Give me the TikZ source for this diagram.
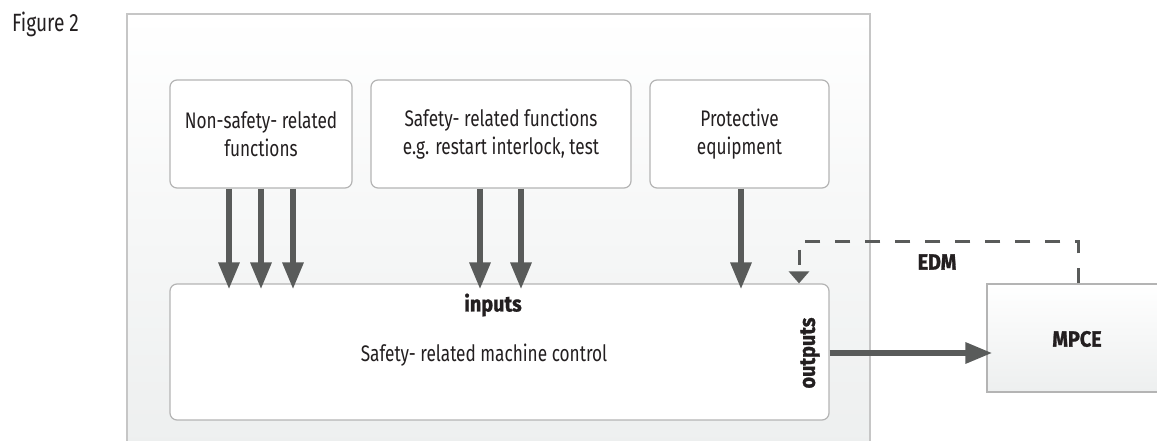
\documentclass[tikz,border=0pt]{standalone}
\usepackage{fontspec}
\setmainfont{Fira Sans}[FakeStretch=0.765]
\newfontfamily\heavyfont{Fira Sans}[FakeStretch=0.9,FakeBold=1.2]
\usetikzlibrary{arrows.meta,calc}
\definecolor{arrowgray}{HTML}{595B5A}
\definecolor{boxborder}{HTML}{B4B4B4}
\definecolor{framegray}{HTML}{C6C6C6}
\definecolor{shadegray}{HTML}{EDEFEF}
\definecolor{textblack}{HTML}{231F20}
\begin{document}
\begin{tikzpicture}[x=1pt,y=-1pt,
  fbox/.style={draw=boxborder,line width=1.2pt,fill=white,rounded corners=7pt,
    minimum height=108pt,align=center,font=\fontsize{22.5}{28}\selectfont,inner sep=0pt,text=textblack},
  bigarrow/.style={draw=arrowgray,line width=6pt,-{Triangle[width=20pt,length=27pt]}},
  dashline/.style={draw=arrowgray,line width=3pt,dash pattern=on 15pt off 15pt,
    -{Triangle[width=20pt,length=12pt]}},
  blabel/.style={font=\heavyfont\fontsize{22}{24}\selectfont\bfseries,inner sep=0pt,text=textblack}
]
\useasboundingbox (0,0) rectangle (1157,441);
\clip (0,0) rectangle (1157,441);
% outer frame
\shade[top color=white,bottom color=shadegray] (127,14) rectangle (870,450);
\draw[framegray,line width=1.5pt] (127,450) -- (127,14) -- (870,14) -- (870,450);
\node[anchor=north west,inner sep=0pt,font=\fontsize{25}{28}\selectfont,text=textblack] (fig) at (12,12) {Figure 2};
% upper boxes
\node[fbox,minimum width=182pt] (ns) at (261,134) {Non-safety- related\\functions};
\node[fbox,minimum width=260pt] (sf) at (501,134) {Safety- related functions\\e.g. restart interlock, test};
\node[fbox,minimum width=179pt] (pe) at (739.5,134) {Protective\\equipment};
% main box
\node[fbox,minimum width=659pt,minimum height=136pt] (main) at (499.5,352) {};
\node[font=\fontsize{22.5}{28}\selectfont,inner sep=0pt,text=textblack] (mtxt) at (484,355) {Safety- related machine control};
\node[blabel] (inp) at (493,305) {inputs};
\node[blabel,rotate=90] (outp) at (810,353) {outputs};
% MPCE
\node[draw=boxborder,line width=1.2pt,top color=white,bottom color=shadegray,
  minimum width=180pt,minimum height=108pt,inner sep=0pt] (mpce) at (1077,338) {};
\node[blabel] (mpcet) at (1077,339) {MPCE};
% arrows
\foreach \x in {229,261,293}{
  \draw[bigarrow] (ns.south -| \x,0) -- ([yshift=-6pt]main.north -| \x,0);
}
\foreach \x in {480,521}{
  \draw[bigarrow] (sf.south -| \x,0) -- ([yshift=-6pt]main.north -| \x,0);
}
\draw[bigarrow] (pe.south -| 741,0) -- ([yshift=-6pt]main.north -| 741,0);
\draw[bigarrow] (main.east |- 0,353) -- ([xshift=6pt]mpce.west |- 0,353);
% EDM feedback
\coordinate (edmR) at (1078,241);
\coordinate (edmL) at (799,241);
\draw[dashline] (mpce.north -| edmR) -- (edmR) -- (edmL) -- (main.north -| edmL);
\node[blabel] (edm) at (937,262) {EDM};
\end{tikzpicture}
\end{document}
